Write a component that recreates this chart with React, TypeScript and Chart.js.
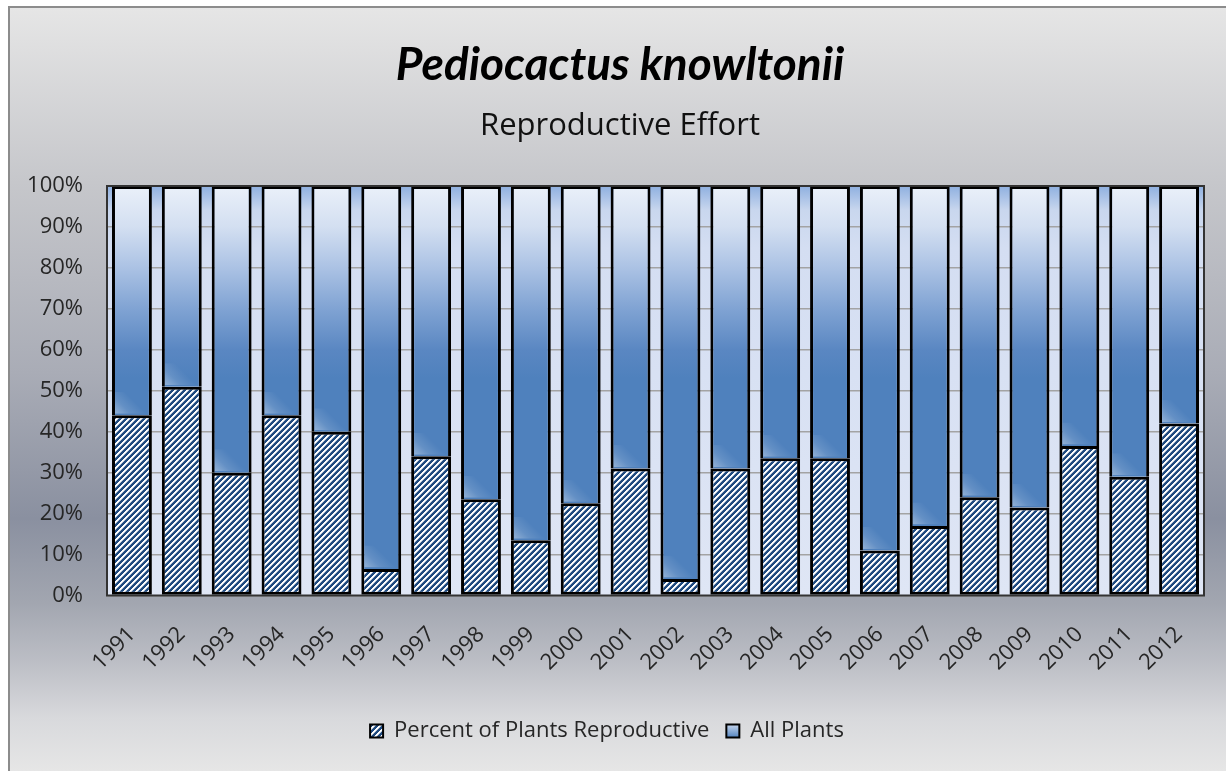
import React, { useEffect, useRef } from 'react';
import { Chart, registerables } from 'chart.js';

Chart.register(...registerables);

const years = ['1991', '1992', '1993', '1994', '1995', '1996', '1997', '1998', '1999', '2000', '2001', '2002', '2003', '2004', '2005', '2006', '2007', '2008', '2009', '2010', '2011', '2012'];
const reproductive = [44, 51, 30, 44, 40, 6.5, 34, 23.5, 13.5, 22.5, 31, 4, 31, 33.5, 33.5, 11, 17, 24, 21.5, 36.5, 29, 42];
const allPlants = [56, 49, 70, 56, 60, 93.5, 66, 76.5, 86.5, 77.5, 69, 96, 69, 66.5, 66.5, 89, 83, 76, 78.5, 63.5, 71, 58];

const TITLE_TEXT = 'Pediocactus knowltonii';
const SUBTITLE_TEXT = 'Reproductive Effort';

const TITLE_FONT = "Lato, 'Open Sans', sans-serif";
const FONT = "'Open Sans', Lato, sans-serif";
const TEXT = '#262626';

function makeHatch(ctx: CanvasRenderingContext2D) {
  const n = 6;
  const c = document.createElement('canvas');
  c.width = n;
  c.height = n;
  const g = c.getContext('2d')!;
  for (let y = 0; y < n; y++) {
    for (let x = 0; x < n; x++) {
      const m = (x + y) % n;
      g.fillStyle = m < 2 ? '#ffffff' : m === 2 ? '#b4c3d6' : '#1f4a7f';
      g.fillRect(x, y, 1, 1);
    }
  }
  return ctx.createPattern(c, 'repeat')!;
}

export default function App() {
  const ref = useRef<HTMLCanvasElement>(null);

  useEffect(() => {
    const canvas = ref.current!;
    const ctx = canvas.getContext('2d')!;
    const hatch = makeHatch(ctx);
    let barGrad: CanvasGradient | null = null;
    let gradKey = '';

    const allGrad = (c: any) => {
      const chart = c.chart;
      const a = chart.chartArea;
      if (!a) return '#4f81bd';
      const key = a.top + ':' + a.bottom;
      if (!barGrad || key !== gradKey) {
        const g = chart.ctx.createLinearGradient(0, a.top, 0, a.bottom);
        g.addColorStop(0, '#eaf0f9');
        g.addColorStop(0.1, '#d3dff1');
        g.addColorStop(0.2, '#abc2e4');
        g.addColorStop(0.3, '#80a3d3');
        g.addColorStop(0.4, '#5a87c2');
        g.addColorStop(0.47, '#4f81bd');
        g.addColorStop(1, '#4f81bd');
        barGrad = g;
        gradKey = key;
      }
      return barGrad;
    };

    const legendGrad = ctx.createLinearGradient(0, 724, 0, 738);
    legendGrad.addColorStop(0, '#c9d8ef');
    legendGrad.addColorStop(1, '#4f81bd');

    const bgPlugin = {
      id: 'bgPlugin',
      afterLayout(chart: any) {
        (chart.boxes || []).forEach((b: any) => {
          const t = b && b.options && b.options.text;
          if (t === TITLE_TEXT || t === SUBTITLE_TEXT) {
            b.left += 18;
            b.right += 18;
          }
        });
        const l = chart.legend;
        if (l) {
          l.left += 5;
          l.right += 5;
        }
      },
      beforeDraw(chart: any) {
        const { ctx: c, chartArea: a, width, height } = chart;
        c.save();
        c.fillStyle = '#ffffff';
        c.fillRect(0, 0, width, height);
        const g = c.createLinearGradient(0, 6, 0, height);
        g.addColorStop(0, '#e6e6e6');
        g.addColorStop(0.23, '#c6c7cb');
        g.addColorStop(0.48, '#a9acb6');
        g.addColorStop(0.67, '#8a90a0');
        g.addColorStop(0.78, '#a2a6b0');
        g.addColorStop(0.86, '#bdbfc6');
        g.addColorStop(0.93, '#d8d9dc');
        g.addColorStop(1, '#e6e6e6');
        c.fillStyle = g;
        c.fillRect(8, 6, width - 8, height - 6);
        c.strokeStyle = '#8c8c8c';
        c.lineWidth = 2;
        c.strokeRect(9, 7, width + 10, height + 10);
        const pg = c.createLinearGradient(0, a.top, 0, a.bottom);
        pg.addColorStop(0, '#8fb0e0');
        pg.addColorStop(0.06, '#c9d7ee');
        pg.addColorStop(0.15, '#d4def2');
        pg.addColorStop(1, '#dfe6f5');
        c.fillStyle = pg;
        c.fillRect(a.left, a.top, a.right - a.left, a.bottom - a.top);
        c.restore();
      },
      afterDatasetsDraw(chart: any) {
        const { ctx: c, chartArea: a } = chart;
        c.save();
        // soft glossy highlight at the foot of each "All Plants" segment
        const meta = chart.getDatasetMeta(1);
        meta.data.forEach((el: any) => {
          const p = el.getProps(['x', 'y', 'base', 'width'], true);
          const left = p.x - p.width / 2 + 3;
          const right = p.x + p.width / 2 - 3;
          const bottom = p.base - 1.5;
          const top = Math.max(p.y + 3, bottom - 22);
          if (bottom - top < 2) return;
          c.save();
          c.beginPath();
          c.rect(left, top, right - left, bottom - top);
          c.clip();
          const gr = c.createLinearGradient(left, bottom, left + 16, bottom - 16);
          gr.addColorStop(0, 'rgba(255,255,255,0.38)');
          gr.addColorStop(0.5, 'rgba(255,255,255,0.12)');
          gr.addColorStop(1, 'rgba(255,255,255,0)');
          c.fillStyle = gr;
          c.fillRect(left, top, right - left, bottom - top);
          c.restore();
        });
        c.strokeStyle = '#333333';
        c.lineWidth = 2;
        c.strokeRect(a.left, a.top, a.right - a.left, a.bottom - a.top);
        c.restore();
      },
    };

    const legendPad = 17;

    const chart = new Chart(ctx, {
      type: 'bar',
      data: {
        labels: years,
        datasets: [
          {
            label: 'Percent of Plants Reproductive',
            data: reproductive,
            backgroundColor: hatch as any,
            borderColor: '#000000',
            borderWidth: 3,
            borderSkipped: false,
          },
          {
            label: 'All Plants',
            data: allPlants,
            backgroundColor: allGrad as any,
            borderColor: '#000000',
            borderWidth: { top: 3, left: 3, right: 3, bottom: 0 },
            borderSkipped: false,
          },
        ],
      },
      options: {
        responsive: false,
        animation: false,
        devicePixelRatio: 1,
        layout: { padding: { left: 0, right: 22, top: 0, bottom: 19 } },
        datasets: { bar: { barPercentage: 0.8, categoryPercentage: 1.0 } },
        scales: {
          x: {
            stacked: true,
            grid: { display: false, drawTicks: false },
            border: { display: false },
            ticks: {
              minRotation: 45,
              maxRotation: 45,
              padding: 26,
              color: TEXT,
              font: { family: FONT, size: 22 },
            },
            afterFit: (s: any) => { s.height = 731 - legendPad - 11 - 595.5; },
          },
          y: {
            stacked: true,
            min: 0,
            max: 100,
            grid: { color: '#a3a3a3', lineWidth: 1.5, drawTicks: false },
            border: { display: false },
            ticks: {
              stepSize: 10,
              padding: 24,
              color: TEXT,
              font: { family: FONT, size: 22 },
              callback: (v: any) => v + '%',
            },
            afterFit: (s: any) => { s.width = 107; },
          },
        },
        plugins: {
          title: {
            display: true,
            text: TITLE_TEXT,
            color: '#000000',
            font: { family: TITLE_FONT, size: 46, weight: 'bold', style: 'italic', lineHeight: 1.2 },
            padding: { top: 37.4, bottom: 0 },
          },
          subtitle: {
            display: true,
            text: SUBTITLE_TEXT,
            color: '#111111',
            font: { family: FONT, size: 31, lineHeight: 1.2 },
            padding: { top: 15, bottom: 41.2 },
          },
          legend: {
            position: 'bottom',
            labels: {
              boxWidth: 13,
              boxHeight: 13,
              padding: legendPad,
              color: TEXT,
              font: { family: FONT, size: 22 },
              generateLabels: (ch: any) =>
                ch.data.datasets.map((ds: any, i: number) => ({
                  text: ds.label,
                  fillStyle: i === 0 ? hatch : legendGrad,
                  strokeStyle: '#000000',
                  lineWidth: 2,
                  hidden: false,
                  datasetIndex: i,
                  fontColor: TEXT,
                })),
            },
          },
          tooltip: { enabled: false },
        },
      },
      plugins: [bgPlugin],
    } as any);

    return () => chart.destroy();
  }, []);

  return (
    <div style={{ position: 'fixed', left: 0, top: 0, width: 1226, height: 771 }}>
      <canvas ref={ref} width={1226} height={771} style={{ display: 'block', width: 1226, height: 771 }} />
    </div>
  );
}
